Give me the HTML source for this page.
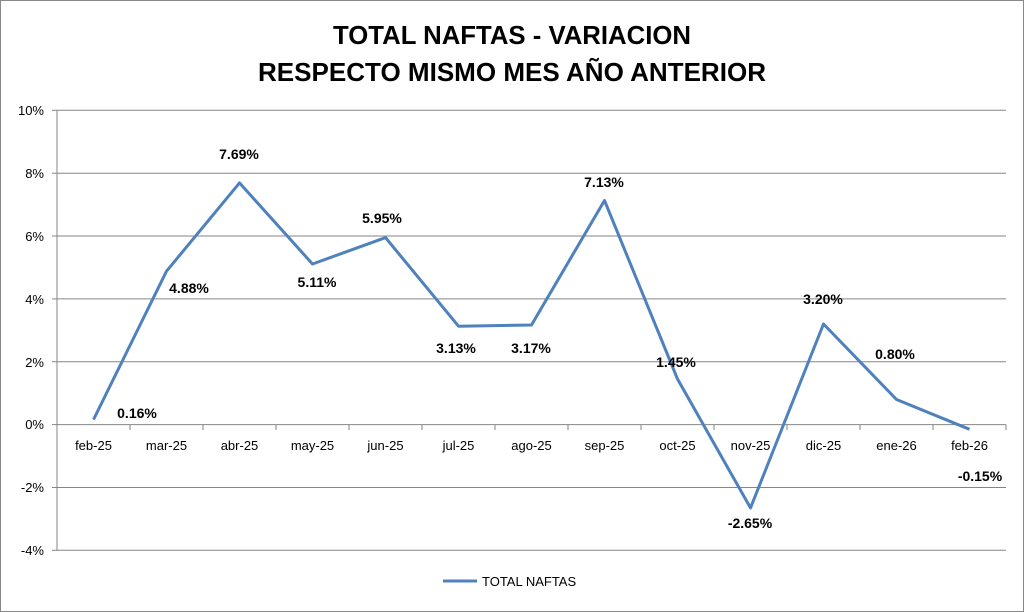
<!DOCTYPE html>
<html><head><meta charset="utf-8"><style>
body{margin:0;background:#fff;}
svg{display:block;font-family:"Liberation Sans",Arial,sans-serif;}
</style></head><body>
<svg width="1024" height="612" viewBox="0 0 1024 612">
<rect x="0.5" y="0.5" width="1023" height="611" fill="#fff" stroke="#888"/>
<text x="512" y="44" text-anchor="middle" font-size="26" font-weight="bold" textLength="358" lengthAdjust="spacingAndGlyphs">TOTAL NAFTAS - VARIACION</text>
<text x="512" y="81" text-anchor="middle" font-size="26" font-weight="bold" textLength="508" lengthAdjust="spacingAndGlyphs">RESPECTO MISMO MES AÑO ANTERIOR</text>
<g stroke="#868686" stroke-width="1">
<line x1="57" y1="110.3" x2="1006" y2="110.3"/>
<line x1="57" y1="173.2" x2="1006" y2="173.2"/>
<line x1="57" y1="236" x2="1006" y2="236"/>
<line x1="57" y1="298.9" x2="1006" y2="298.9"/>
<line x1="57" y1="361.7" x2="1006" y2="361.7"/>
<line x1="57" y1="487.5" x2="1006" y2="487.5"/>
<line x1="57" y1="550.3" x2="1006" y2="550.3"/>
<line x1="57" y1="110" x2="57" y2="551"/>
<line x1="52" y1="110.3" x2="57" y2="110.3"/><line x1="52" y1="173.2" x2="57" y2="173.2"/><line x1="52" y1="236" x2="57" y2="236"/><line x1="52" y1="298.9" x2="57" y2="298.9"/><line x1="52" y1="361.7" x2="57" y2="361.7"/><line x1="52" y1="424.6" x2="57" y2="424.6"/><line x1="52" y1="487.5" x2="57" y2="487.5"/><line x1="52" y1="550.3" x2="57" y2="550.3"/>
</g>
<line x1="57" y1="424.6" x2="1006" y2="424.6" stroke="#868686"/>
<g stroke="#868686"><line x1="130" y1="424.6" x2="130" y2="430"/><line x1="203" y1="424.6" x2="203" y2="430"/><line x1="276" y1="424.6" x2="276" y2="430"/><line x1="349" y1="424.6" x2="349" y2="430"/><line x1="422" y1="424.6" x2="422" y2="430"/><line x1="495" y1="424.6" x2="495" y2="430"/><line x1="568" y1="424.6" x2="568" y2="430"/><line x1="641" y1="424.6" x2="641" y2="430"/><line x1="714" y1="424.6" x2="714" y2="430"/><line x1="787" y1="424.6" x2="787" y2="430"/><line x1="860" y1="424.6" x2="860" y2="430"/><line x1="933" y1="424.6" x2="933" y2="430"/><line x1="1006" y1="424.6" x2="1006" y2="430"/></g>
<g font-size="13" text-anchor="end" fill="#000">
<text x="44" y="115">10%</text><text x="44" y="178">8%</text><text x="44" y="241">6%</text><text x="44" y="304">4%</text><text x="44" y="367">2%</text><text x="44" y="429">0%</text><text x="44" y="492">-2%</text><text x="44" y="555">-4%</text>
</g>
<g font-size="13" text-anchor="middle">
<text x="93.5" y="450">feb-25</text><text x="166.5" y="450">mar-25</text><text x="239.5" y="450">abr-25</text><text x="312.5" y="450">may-25</text><text x="385.5" y="450">jun-25</text><text x="458.5" y="450">jul-25</text><text x="531.5" y="450">ago-25</text><text x="604.5" y="450">sep-25</text><text x="677.5" y="450">oct-25</text><text x="750.5" y="450">nov-25</text><text x="823.5" y="450">dic-25</text><text x="896.5" y="450">ene-26</text><text x="969.5" y="450">feb-26</text>
</g>
<polyline fill="none" stroke="#4f81bd" stroke-width="3" stroke-linejoin="round" points="93.5,419.6 166.5,271.2 239.5,182.9 312.5,264 385.5,237.6 458.5,326.2 531.5,325 604.5,200.5 677.5,379 750.5,507.9 823.5,324 896.5,399.5 969.5,429.3"/>
<g font-size="14" font-weight="bold" text-anchor="middle">
<text x="137" y="418">0.16%</text><text x="189" y="293">4.88%</text><text x="239" y="159">7.69%</text><text x="317" y="287">5.11%</text><text x="382" y="223">5.95%</text><text x="456" y="353">3.13%</text><text x="531" y="353">3.17%</text><text x="604" y="187">7.13%</text><text x="676" y="367">1.45%</text><text x="750" y="528">-2.65%</text><text x="823" y="304">3.20%</text><text x="895" y="359">0.80%</text><text x="980" y="481">-0.15%</text>
</g>
<line x1="443" y1="581" x2="477" y2="581" stroke="#4f81bd" stroke-width="3"/>
<text x="482" y="586" font-size="13">TOTAL NAFTAS</text>
</svg>
</body></html>
